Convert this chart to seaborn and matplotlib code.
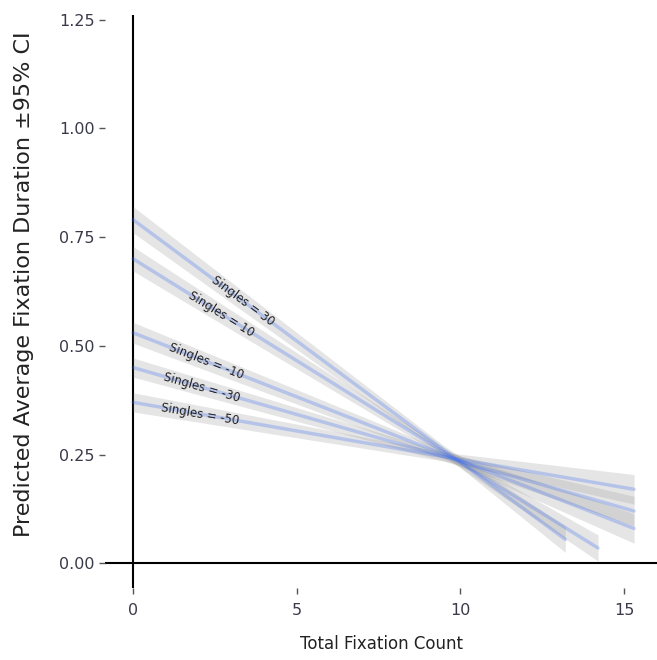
import numpy as np
import pandas as pd
import matplotlib
matplotlib.use("Agg")
import matplotlib.pyplot as plt
import seaborn as sns

# predicted lines (one per level of the moderator)
singles = [30, 10, -10, -30, -50]
x_start = [0, 0, 0, 0, 0]
x_mid = [9.5, 9.5, 9.5, 9.5, 9.5]
x_end = [13.2, 14.2, 15.3, 15.3, 15.3]
y_start = [0.79, 0.70, 0.53, 0.45, 0.37]
y_mid = [0.26, 0.255, 0.25, 0.245, 0.245]
y_end = [0.055, 0.035, 0.08, 0.12, 0.17]
ci_start = [0.030, 0.028, 0.024, 0.022, 0.022]
ci_mid = [0.010, 0.010, 0.010, 0.010, 0.010]
ci_end = [0.030, 0.030, 0.034, 0.034, 0.034]
label_x = [3.35, 2.7, 2.25, 2.1, 2.05]

rows = []
for i, s in enumerate(singles):
    for xx, yy, cc in [(x_start[i], y_start[i], ci_start[i]),
                       (x_mid[i], y_mid[i], ci_mid[i]),
                       (x_end[i], y_end[i], ci_end[i])]:
        rows.append({"group": s, "x": xx, "y": yy, "lo": yy - cc, "hi": yy + cc})
df = pd.DataFrame(rows)

sns.set_style("white")
plt.rcParams["font.family"] = ["DejaVu Sans"]

fig = plt.figure(figsize=(6.57, 6.6), dpi=100)
ax = fig.add_axes([0.16, 0.109, 0.84, 0.868])

for s, g in df.groupby("group"):
    ax.fill_between(g["x"], g["lo"], g["hi"], color="#9a9a9a", alpha=0.25, lw=0)

sns.lineplot(data=df, x="x", y="y", units="group", estimator=None,
             color="#3d6df2", alpha=0.28, lw=2.5, ax=ax)

for i, s in enumerate(singles):
    slope = (y_end[i] - y_start[i]) / (x_end[i] - x_start[i])
    ly = y_start[i] + slope * (label_x[i] - x_start[i])
    ang = np.degrees(np.arctan(slope))
    ax.text(label_x[i], ly, f"Singles = {s}", fontsize=8.5, color="#222222",
            rotation=ang, transform_rotates_text=True, rotation_mode="anchor",
            ha="center", va="center")

ax.axhline(0, color="black", lw=1.5, zorder=0)
ax.axvline(0, color="black", lw=1.5, zorder=0)

ax.set_xlim(-0.85, 16.0)
ax.set_ylim(-0.057, 1.26)
ax.set_xticks([0, 5, 10, 15])
ax.set_yticks([0, 0.25, 0.5, 0.75, 1.0, 1.25])
ax.set_yticklabels(["0.00", "0.25", "0.50", "0.75", "1.00", "1.25"])
for sp in ax.spines.values():
    sp.set_visible(False)
ax.tick_params(axis="both", length=4, width=1, color="#555555", labelsize=11.5,
               labelcolor="#3a3a4a", direction="out", left=True, bottom=True)
ax.tick_params(axis="x", pad=7)
ax.set_xlabel("Total Fixation Count", fontsize=12, color="#222222", labelpad=12)
ax.set_ylabel("Predicted Average Fixation Duration ±95% CI", fontsize=16,
              color="#222222")
ax.yaxis.set_label_coords(-0.128, 0.53)

fig.savefig("out.png", dpi=100)
